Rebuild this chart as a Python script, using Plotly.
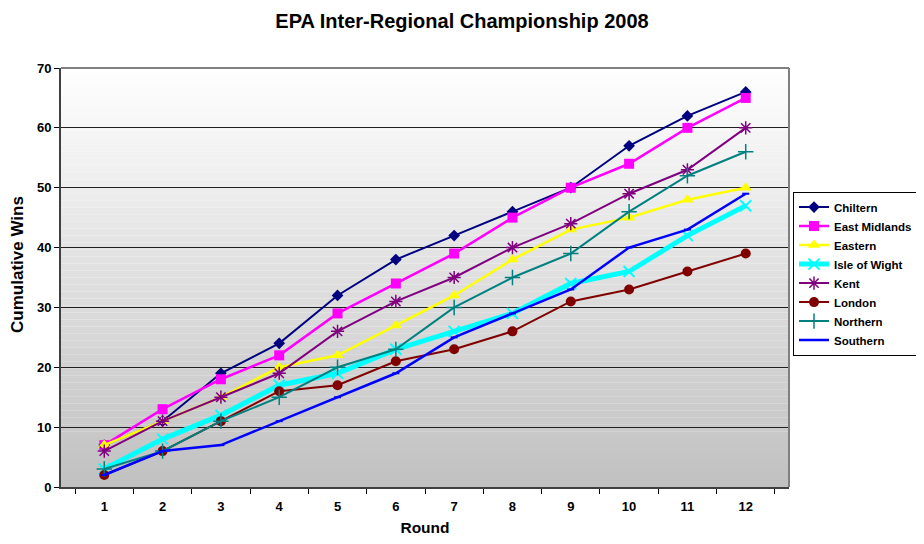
import plotly.graph_objects as go

rounds = ["1", "2", "3", "4", "5", "6", "7", "8", "9", "10", "11", "12"]

chiltern = [7, 11, 19, 24, 32, 38, 42, 46, 50, 57, 62, 66]
east_midlands = [7, 13, 18, 22, 29, 34, 39, 45, 50, 54, 60, 65]
eastern = [7, 11, 15, 20, 22, 27, 32, 38, 43, 45, 48, 50]
isle_of_wight = [3, 8, 12, 17, 19, 23, 26, 29, 34, 36, 42, 47]
kent = [6, 11, 15, 19, 26, 31, 35, 40, 44, 49, 53, 60]
london = [2, 6, 11, 16, 17, 21, 23, 26, 31, 33, 36, 39]
northern = [3, 6, 11, 15, 20, 23, 30, 35, 39, 46, 52, 56]
southern = [2, 6, 7, 11, 15, 19, 25, 29, 33, 40, 43, 49]

series = [
    ("Chiltern", chiltern, "#000080", 2, dict(symbol="diamond", size=9)),
    ("East Midlands", east_midlands, "#FF00FF", 2.5, dict(symbol="square", size=10)),
    ("Eastern", eastern, "#FFFF00", 2.5, dict(symbol="triangle-up", size=11)),
    ("Isle of Wight", isle_of_wight, "#00FFFF", 5, dict(symbol="x-thin", size=11, line=dict(width=2, color="#00FFFF"))),
    ("Kent", kent, "#800080", 2, dict(symbol="asterisk", size=11, line=dict(width=1.5, color="#800080"))),
    ("London", london, "#800000", 2, dict(symbol="circle", size=10)),
    ("Northern", northern, "#008080", 2, dict(symbol="cross-thin", size=11, line=dict(width=1.5, color="#008080"))),
    ("Southern", southern, "#0000FF", 2.5, dict(symbol="line-ew", size=5, line=dict(width=2, color="#0000FF"))),
]

fig = go.Figure()
for name, vals, color, lw, mk in series:
    m = dict(color=color)
    m.update(mk)
    fig.add_trace(go.Scatter(x=rounds, y=vals, name=name, mode="lines+markers",
                             line=dict(color=color, width=lw), marker=m))

n = 60
shapes = []
for i in range(n):
    t = (i + 0.5) / n
    v = int(round(255 - (255 - 192) * t))
    shapes.append(dict(type="rect", xref="x domain", yref="y domain",
                       x0=0, x1=1, y0=1 - (i + 1) / n, y1=1 - i / n,
                       fillcolor=f"rgb({v},{v},{v})", line=dict(width=0), layer="below"))
shapes.append(dict(type="line", xref="x domain", yref="y domain", x0=0, x1=1, y0=1, y1=1,
                   line=dict(color="#808080", width=2)))
shapes.append(dict(type="line", xref="x domain", yref="y domain", x0=1, x1=1, y0=0, y1=1,
                   line=dict(color="#808080", width=2)))

font_family = "Liberation Sans, Arial, sans-serif"
bold = dict(family=font_family, weight="bold", color="black")

fig.update_layout(
    width=908, height=528,
    margin=dict(l=53, r=127, t=60, b=49, autoexpand=False),
    paper_bgcolor="white",
    plot_bgcolor="rgba(0,0,0,0)",
    shapes=shapes,
    font=dict(family=font_family, color="black"),
    title=dict(text="EPA Inter-Regional Championship 2008", x=0.5, xanchor="center",
               y=1 - 13 / 528, yanchor="middle",
               font=dict(size=20, **bold)),
    annotations=[dict(text="Cumulative Wins", textangle=-90, xref="paper", yref="paper",
                      x=-(53 - 10) / 728, y=0.53, xanchor="center", yanchor="middle",
                      showarrow=False, font=dict(size=17, **bold))],
    xaxis=dict(type="category", tickson="boundaries", ticks="outside", ticklen=5,
               tickcolor="black", showline=True, linecolor="#404040", linewidth=2,
               showgrid=False, tickfont=dict(size=13, **bold), ticklabelstandoff=6,
               title=dict(text="Round", font=dict(size=15.5, **bold), standoff=20)),
    yaxis=dict(range=[0, 70], dtick=10, ticks="outside", ticklen=5, tickcolor="black",
               showline=True, linecolor="#404040", linewidth=2,
               showgrid=True, gridcolor="#202020", gridwidth=1, zeroline=False,
               tickfont=dict(size=13, **bold)),
    legend=dict(x=1.0055, y=0.705, xanchor="left", yanchor="top",
                bordercolor="black", borderwidth=1, bgcolor="white",
                font=dict(size=11.5, **bold),
                tracegroupgap=0, itemwidth=30),
    showlegend=True,
)

fig.write_html("out.html")
